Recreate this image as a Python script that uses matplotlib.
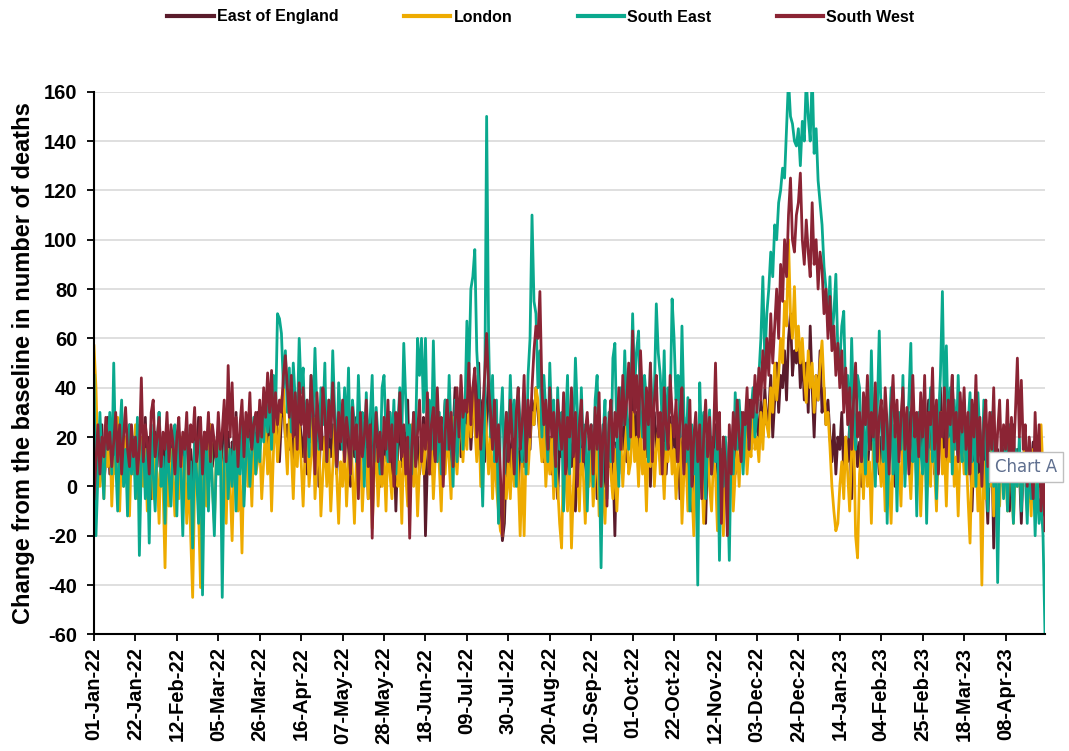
import matplotlib
matplotlib.use("Agg")
import matplotlib.pyplot as plt
import pandas as pd

start_date = "2022-01-01"
n_days = 483
tick_step = 21

series_names = ["East of England", "London", "South East", "South West"]
series_colors = ["#5a1b2b", "#eeab00", "#0aa98e", "#8b2434"]

east_of_england = [
    30, 20, 5, 15, 25, 0, 12, 28, 5, 18, 10, 22, 0, 15, 30, 8, 20, 12, 25, 5, 15,
    10, 25, 0, 18, 12, 28, 5, 20, -5, 15, 22, 8, 30, 10, 18, 0, 25, 12, 5, 20, 15,
    5, 22, 12, 0, 18, 25, 8, 15, -8, 20, 10, 28, 5, 15, 22, 0, 12, 25, 8, 18, 10,
    20, 5, 15, 28, 10, 22, 0, 18, 12, 30, 5, 20, 15, 25, 8, 18, 28, 10, 22, 15, 30,
    15, 28, 20, 35, 12, 25, 40, 18, 30, 22, 10, 28, 35, 20, 25, 15, 32, 8, 25, 18, 30,
    20, 12, 30, 5, 25, 18, 35, 10, 22, 0, 28, 15, 20, 8, 30, 12, 25, 18, 5, 22, 15,
    25, 10, 30, 15, 0, 22, 12, 28, 5, 18, 25, 10, 20, -5, 15, 30, 8, 22, 12, 0, 18,
    10, 25, 15, 30, 5, 20, -10, 15, 28, 8, 22, 12, 35, 0, 18, 25, 10, 20, 5, 15, 28,
    -20, 10, 22, 5, 18, 30, 12, 25, 0, 20, 35, 15, 28, 8, 22, 40, 18, 30, 12, 25, 35,
    20, 40, 15, 30, 45, 25, 50, 20, 35, 10, 28, 45, 20, 15, 30, 5, 0, -10, -22, -15, 10,
    25, 5, 20, 10, 30, 0, 15, 25, 8, 20, 30, 15, 35, 25, 40, 30, 20, 35, 10, 25, 15,
    20, 5, 25, 10, -5, 18, 12, 25, 0, 15, 22, 8, 20, -10, 12, 25, 5, 18, 10, 0, 15,
    22, 8, 15, -5, 20, 10, 25, 0, 15, 8, 22, 12, -20, 18, 5, 25, 15, 30, 10, 20, 28,
    40, 15, 30, 5, 25, 20, 35, 12, 28, 0, 22, 30, 15, 25, 10, 32, 18, 5, 20, 28, 15,
    25, 10, 20, -5, 15, 28, 5, 18, 10, -10, 22, 12, 0, 20, 8, 25, -15, 15, 5, 20, 10,
    25, 5, 15, -10, 20, 8, 0, 18, 12, 25, 5, 20, 15, 30, 10, 25, 20, 35, 15, 28, 22,
    30, 15, 35, 20, 40, 25, 30, 45, 20, 35, 50, 30, 45, 40, 55, 35, 60, 70, 45, 55, 50,
    60, 40, 55, 35, 50, 30, 65, 40, 20, 45, 35, 55, 30, 40, 25, 35, 20, 10, 25, 5, 20,
    15, 30, 5, 20, 10, 25, -5, 15, 22, 8, 18, 0, 25, 12, 5, 20, 15, 28, 10, 18, 5,
    20, 10, 25, 5, 18, 28, 12, 0, 20, 15, 25, 8, 22, 12, 30, 5, 18, 25, 10, 20, 15,
    25, 10, 20, 35, 15, 28, 5, 22, 18, 40, 12, 25, 8, 30, 20, 45, 15, 25, 10, 30, 20,
    15, 25, 5, 20, -10, 15, 28, 10, 0, 18, 25, 5, -15, 12, 20, -25, 8, 15, 0, 20, 10,
    5, 18, -10, 12, 25, 0, 15, 8, -15, 10, 20, -5, 12, 5, 18, -8, 10, 0, 15, -10, -12,
]

london = [
    57, 40, 10, 0, 15, -5, 20, 8, 25, -8, 12, 5, 28, -10, 15, 0, 20, 10, -12, 18, 5,
    25, -5, 10, 20, 0, 15, -10, 8, 22, -5, 12, 5, -15, 18, 0, -33, 10, -8, 15, 5, -12,
    10, -5, 20, 0, 12, -15, 5, -20, -45, 0, 15, -10, -41, 5, 18, -8, 10, 25, 0, -15, 12,
    5, 20, -5, 10, -15, 15, 0, -22, 8, 20, -10, 5, -27, 12, 25, 0, 15, -8, 20, 5, 10,
    18, -5, 10, 25, 5, 20, -10, 15, 30, 10, 22, 35, 40, 20, 5, 28, 15, -5, 20, 8, 25,
    10, -8, 15, 22, 0, 12, 28, -5, 10, 18, -12, 5, 20, 0, 15, -10, 8, 25, 5, -15, 10,
    0, 18, -8, 10, 25, 5, -15, 12, 0, 20, -10, 8, 15, -5, 22, -17, 5, 15, -8, 10, 0,
    12, -10, 20, 5, -5, 15, 28, 0, 10, -15, 18, 5, -8, 12, 25, 0, 15, -12, 8, 20, 5,
    15, 30, 5, 20, -5, 12, 25, 8, -10, 18, 5, 22, 10, -5, 28, 15, 5, 20, 32, 10, 25,
    15, 35, 20, 40, 25, 10, 30, 0, 15, 35, 20, 5, 25, -5, 15, 0, -10, -18, -20, 5, -5,
    10, -5, 15, 0, 20, 5, -20, 10, -20, 15, 5, 20, 30, 25, 40, 35, 20, 10, 25, 0, 15,
    5, 20, -5, 10, 0, -15, -25, 15, 5, -10, 12, -25, 0, 20, 8, -10, 15, 5, -15, 10, 0,
    15, -8, 5, 20, -12, 8, 0, -15, 10, 22, 5, -5, 15, -10, 8, 20, 0, 15, 25, 5, 10,
    30, 10, 20, 0, 25, 5, 15, -10, 20, 8, 28, 0, 15, 22, 5, 12, -5, 18, 10, 25, 5,
    15, -5, 10, 20, -15, 5, 12, -10, 18, 0, -20, 10, -8, 15, 5, -15, 8, 20, 0, -10, 12,
    5, -18, 10, 0, -20, 15, -5, 8, 20, -10, 5, 15, 0, 22, 10, 25, 5, 18, 12, 28, 15,
    20, 10, 30, 15, 35, 25, 20, 40, 30, 50, 35, 45, 60, 50, 75, 65, 100, 70, 60, 81, 55,
    65, 50, 60, 45, 34, 55, 40, 50, 30, 45, 35, 50, 59, 40, 25, 30, 16, 0, -10, -18, -15,
    0, 10, -5, 20, 5, -10, 15, 25, -20, -29, 5, 15, -5, 20, 0, 10, -15, 18, 5, 25, 10,
    0, 15, -10, 20, 5, -15, 12, 25, 0, 10, -8, 22, 5, 30, 10, -5, 15, 20, 0, 12, -12,
    10, 20, -5, 15, 0, 25, 8, -10, 18, 30, 5, 15, -8, 20, 10, 28, 0, 12, -12, 15, 20,
    5, 15, -5, -23, 10, 0, 15, -10, 5, -40, 10, -5, 20, 0, 15, -12, 5, 10, -8, 15, 0,
    10, -10, 20, 5, -15, 10, 0, 15, -5, 8, 20, -10, 5, -12, 15, 0, -8, 10, 25, 5, -10,
]

south_east = [
    45, -20, 5, 30, 10, -5, 25, 15, 30, 5, 50, 10, -10, 20, 35, 0, 15, -12, 25, 5, 20,
    -5, 28, -28, 10, 20, -5, 15, -23, 25, 5, -10, 18, 30, 0, 12, -15, 22, 5, -8, 15, 25,
    -12, 20, 8, -20, 15, 25, -5, 10, -25, 18, 5, -15, 22, -44, 8, 15, -10, 20, 0, -20, 12,
    5, 20, -45, 10, 25, -5, 15, 0, 20, -10, 18, 5, 25, -8, 12, 22, 0, 15, 28, 5, 20,
    10, 30, 18, 35, 22, 40, 15, 45, 28, 70, 68, 62, 40, 55, 30, 48, 22, 50, 35, 25, 60,
    38, 48, 20, 35, 12, 45, 28, 56, 30, 15, 40, 25, 50, 10, 35, 20, 55, 30, 8, 42, 25,
    15, 40, 20, 48, 5, 35, 25, 10, 45, 22, 30, 0, 38, 15, 28, 45, 10, 32, 20, 5, 40,
    45, 20, 10, 30, 15, 35, 5, 25, 40, 20, 58, 35, 15, 25, 5, 30, 20, 60, 45, 60, 30,
    60, 20, 35, 15, 59, 25, 10, 30, 5, 20, 35, 15, 45, 20, 0, 35, 10, 25, 40, 15, 30,
    67, 45, 80, 85, 96, 55, 40, 20, -8, 30, 150, 60, 20, 45, 10, 35, -15, 25, 40, 5, 30,
    15, 45, 20, 35, 0, 40, 25, 10, 30, 5, 45, 60, 110, 75, 70, 40, 55, 20, 45, 30, 10,
    50, 25, 35, 0, 40, 15, 30, -10, 25, 45, 5, 35, 20, 52, 30, 10, 40, 15, 25, -10, 20,
    25, 0, 35, 45, 15, -33, 20, 35, -5, 30, 10, 52, 58, 20, 0, 40, 25, 55, 30, 15, 35,
    70, 40, 55, 63, 30, 20, 45, 35, 10, 50, 30, 38, 74, 54, 45, 25, 55, 15, 40, 30, 76,
    60, 35, 45, 20, 65, 30, 10, 36, -10, 25, 5, 20, -40, 42, 15, 30, -5, 20, 31, 5, 15,
    10, 25, -30, 15, 0, 20, 5, -30, 20, 5, 38, 15, 35, 20, 5, 25, 35, 15, 30, 40, 20,
    30, 45, 60, 85, 50, 70, 80, 95, 85, 106, 100, 115, 120, 129, 125, 145, 165, 150, 147, 140, 138,
    145, 130, 148, 140, 165, 150, 140, 168, 135, 145, 124, 115, 106, 89, 80, 65, 85, 60, 70, 86, 55,
    50, 65, 71, 35, 45, 20, 60, 30, 15, 45, 40, 10, 25, 5, 35, 15, 55, 20, 0, 30, 63,
    25, 10, 35, -15, 20, 40, 5, 25, -10, 30, 15, 45, 0, 20, 35, 58, 10, 25, -12, 30, 15,
    5, 35, -15, 20, 40, 10, 30, -5, 25, 45, 79, 30, 57, 20, 40, 5, 35, 15, 45, 20, 10,
    35, 5, 25, 38, 10, 30, 0, 38, 20, 5, 35, 15, -10, 25, 30, 0, 20, -39, 10, 15, -5,
    20, -10, 25, 5, -15, 15, 0, 20, -10, 10, 5, -15, 15, -5, 10, -20, 5, -15, -5, -20, -60,
]

south_west = [
    -5, 10, 25, 5, 20, 12, 28, 15, 22, 8, 18, 30, 10, 25, 5, 20, 32, 15, 8, 25, 12,
    20, 5, 15, 44, 10, 25, 18, 5, 30, 35, 12, 20, 28, 8, 22, 15, 30, 10, 25, 18, 5,
    20, 28, 8, 22, 15, 30, 5, 25, 18, 32, 10, 20, 28, 5, 22, 15, 30, 10, 25, 18, 12,
    30, 15, 22, 35, 10, 49, 20, 42, 15, 28, 8, 25, 35, 12, 30, 20, 38, 15, 25, 30, 18,
    35, 20, 40, 28, 46, 30, 47, 22, 38, 25, 35, 30, 45, 53, 40, 28, 45, 20, 38, 15, 42,
    25, 40, 10, 35, 20, 45, 28, 5, 38, 22, 15, 40, 30, 10, 35, 20, 42, 25, 8, 30, 18,
    35, 10, 28, 20, 5, 32, 15, 25, -5, 30, 12, 20, 35, 8, 25, -21, 15, 30, 10, 22, 5,
    28, 15, 35, 10, 25, 0, 30, 18, 38, 12, 25, 5, 20, -21, 15, 30, 8, 22, 35, 10, 25,
    15, 38, 5, 25, 32, 10, 40, 18, 28, 0, 22, 35, 15, 30, 8, 25, 40, 20, 45, 28, 35,
    30, 50, 25, 40, 48, 20, 35, 15, 30, 45, 62, 40, 30, 15, 35, 10, 25, 5, -20, 15, 30,
    10, 35, 20, 5, 30, 40, 15, 25, 45, 10, 35, 20, 40, 55, 65, 60, 79, 40, 25, 35, 15,
    40, 20, 30, 8, 35, 25, 15, 38, 5, 28, 20, 40, 12, 30, 0, 25, 35, 10, 22, 30, 15,
    25, 5, 32, 15, 38, 0, 20, 28, -8, 25, 35, 10, 30, 20, 40, 15, 45, 25, 35, 50, 20,
    63, 30, 45, 20, 55, 35, 15, 40, 25, 50, 10, 35, 45, 20, 30, 5, 40, 25, 15, 45, 30,
    20, 35, 10, 28, 40, 5, 25, 15, 35, 0, 20, 30, 10, 25, -5, 20, 35, 12, 28, 5, 20,
    50, 15, 30, -15, 20, 10, -20, 25, 5, 30, 15, 35, 20, 10, 30, 25, 40, 15, 35, 28, 45,
    30, 48, 35, 55, 40, 60, 45, 70, 50, 65, 80, 60, 90, 75, 100, 85, 110, 125, 100, 95, 110,
    115, 127, 100, 90, 108, 95, 85, 115, 90, 100, 80, 95, 88, 70, 80, 60, 77, 55, 65, 45, 58,
    40, 55, 30, 48, 25, 40, 15, 35, 50, 20, 30, 10, 38, 25, 45, 15, 30, 20, 42, 10, 28,
    35, 15, 40, 25, 5, 30, 45, 20, 35, 10, 28, 40, 15, 32, 5, 25, 45, 20, 30, 12, 38,
    20, 45, 10, 30, 25, 48, 15, 35, 5, 30, 20, 40, 12, 35, 25, 45, 18, 30, 10, 38, 22,
    40, 15, 30, 5, 35, 20, 45, 10, 28, 0, 25, 35, 8, 30, 15, 40, 5, 22, 35, 10, 25,
    15, 35, 5, 28, 10, 30, 52, 20, 43, 15, 25, 0, 20, 10, -5, 30, 5, 25, -10, 10, -18,
]

y_label = "Change from the baseline in number of deaths"
y_min, y_max, y_step = -60, 160, 20

dates = pd.date_range(start_date, periods=n_days, freq="D")
all_series = [east_of_england, london, south_east, south_west]

plt.rcParams["font.family"] = ["Liberation Sans", "DejaVu Sans"]
plt.rcParams["axes.unicode_minus"] = False

fig = plt.figure(figsize=(10.69, 7.51), dpi=100)
ax = fig.add_axes([94 / 1069, 1 - 634.4 / 751, (1045 - 94) / 1069, (634.4 - 91.7) / 751])

for name, vals, col in zip(series_names, all_series, series_colors):
    ax.plot(dates, vals, color=col, lw=2.0, label=name, solid_joinstyle="round")

ax.set_xlim(dates[0], dates[-1])
ax.set_ylim(y_min, y_max)
ax.set_yticks(range(y_min, y_max + 1, y_step))
ax.yaxis.grid(True, color="#d9d9d9", lw=1.2)
ax.set_axisbelow(True)

xt = dates[::tick_step]
ax.set_xticks(xt)
ax.set_xticklabels([d.strftime("%d-%b-%y") for d in xt], rotation=90, fontsize=14.5, fontweight="bold")
for lbl in ax.get_yticklabels():
    lbl.set_fontsize(14.5)
    lbl.set_fontweight("bold")

for s in ["top", "right"]:
    ax.spines[s].set_visible(False)
ax.spines["left"].set_color("black")
ax.spines["left"].set_linewidth(1.5)
ax.spines["bottom"].set_color("black")
ax.spines["bottom"].set_linewidth(1.5)
ax.tick_params(axis="both", direction="out", length=5, width=1.3, color="black")
ax.tick_params(axis="x", pad=4)
ax.tick_params(axis="y", pad=7)

ax.set_ylabel(y_label, fontsize=17, fontweight="bold", labelpad=6)

fig.legend(loc="center", bbox_to_anchor=(541 / 1069, 1 - 17 / 751), ncol=4, frameon=False,
           prop={"weight": "bold", "size": 11.5}, handlelength=2.9, handletextpad=0.2,
           columnspacing=4.1)
for line in fig.legends[0].get_lines():
    line.set_linewidth(3)

# tooltip artefact from the source screenshot
fig.text(995 / 1069, 1 - 467 / 751, "Chart A", fontsize=12, color="#5f6f8f",
         family="DejaVu Sans", va="center", ha="left",
         bbox=dict(boxstyle="square,pad=0.35", fc="white", ec="#bfbfbf", lw=1))

fig.savefig("out.png", dpi=100)
